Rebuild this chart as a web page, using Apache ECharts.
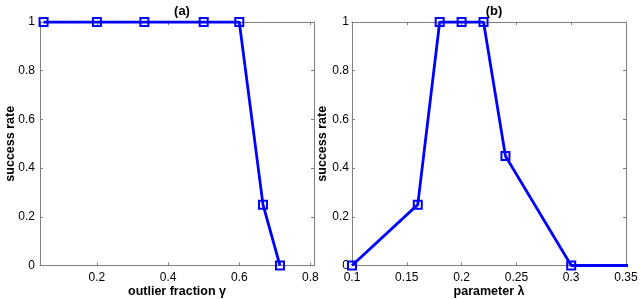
<!DOCTYPE html>
<html>
<head>
<meta charset="utf-8">
<script src="https://cdn.jsdelivr.net/npm/echarts@6/dist/echarts.min.js"></script>
<style>
html,body{margin:0;padding:0;background:#fff;}
#chart{width:640px;height:299px;}
</style>
</head>
<body>
<div id="chart"></div>
<script>
// Panel (a)
const gammaValues = [0.05, 0.2, 1/3, 0.5, 0.6, 2/3, 5/7];
const successA = [1, 1, 1, 1, 1, 0.25, 0];
const ticksXA = [0.2, 0.4, 0.6, 0.8];
// Panel (b)
const lambdaValues = [0.1, 0.16, 0.18, 0.2, 0.22, 0.24, 0.3, 0.4];
const successB = [0, 0.25, 1, 1, 1, 0.45, 0, 0];
const titles = ['(a)', '(b)'];
const xNames = ['outlier fraction γ', 'parameter λ'];
const yName = 'success rate';

const FONT = '"Liberation Sans", Arial, Helvetica, sans-serif';
const BLUE = '#0000ff';
const GRAY = '#7f7f7f';

const grids = [
  {left: 40, top: 22, width: 274, height: 243.5, outerBoundsMode: 'none', containLabel: false},
  {left: 352, top: 22, width: 274, height: 243.5, outerBoundsMode: 'none', containLabel: false}
];

function mkX(gridIndex, opts, isTop) {
  return Object.assign({
    type: 'value', gridIndex: gridIndex, position: isTop ? 'top' : 'bottom',
    splitLine: {show: false},
    axisLine: {show: true, onZero: false, lineStyle: {color: GRAY, width: 1}},
    axisTick: {show: true, inside: true, length: 3, lineStyle: {color: GRAY}},
    axisLabel: {show: !isTop, color: '#000', fontSize: 12, fontFamily: FONT, margin: 6},
    name: isTop ? '' : xNames[gridIndex], nameLocation: 'middle', nameGap: 20,
    nameMoveOverlap: false,
    nameTextStyle: {color: '#000', fontSize: 12.5, fontWeight: 'bold', fontFamily: FONT}
  }, opts);
}
function mkY(gridIndex, isRight) {
  return {
    type: 'value', gridIndex: gridIndex, position: isRight ? 'right' : 'left',
    min: 0, max: 1, interval: 0.2,
    splitLine: {show: false},
    axisLine: {show: true, onZero: false, lineStyle: {color: GRAY, width: 1}},
    axisTick: {show: true, inside: true, length: 3, lineStyle: {color: GRAY}},
    axisLabel: {show: !isRight, color: '#000', fontSize: 12, fontFamily: FONT, margin: gridIndex === 0 ? 5 : 3},
    name: isRight ? '' : yName, nameLocation: 'middle', nameGap: 23,
    nameMoveOverlap: false,
    nameTextStyle: {color: '#000', fontSize: 12.5, fontWeight: 'bold', fontFamily: FONT}
  };
}

const xAopts = (isTop) => ({min: 0.04, max: 0.81,
  axisTick: {show: true, inside: true, length: 3, lineStyle: {color: GRAY}, customValues: ticksXA},
  axisLabel: {show: !isTop, color: '#000', fontSize: 12, fontFamily: FONT, margin: 6, customValues: ticksXA}
});
const xBopts = {min: 0.1, max: 0.35, interval: 0.05};

function mkSeries(idx, xs, ys) {
  return {
    type: 'line', xAxisIndex: idx * 2, yAxisIndex: idx * 2,
    data: xs.map((x, i) => [x, ys[i]]),
    clip: true,
    symbol: 'rect', symbolSize: 8,
    lineStyle: {color: BLUE, width: 2.8},
    itemStyle: {color: 'rgba(255,255,255,0)', borderColor: BLUE, borderWidth: 2},
    emphasis: {disabled: true},
    animation: false
  };
}

const chart = echarts.init(document.getElementById('chart'), null, {renderer: 'canvas'});
chart.setOption({
  backgroundColor: '#fff',
  animation: false,
  title: titles.map((t, i) => ({
    text: t, left: grids[i].left + grids[i].width / 2, top: 0, textAlign: 'center',
    textStyle: {fontSize: 13, fontWeight: 'bold', color: '#000', fontFamily: FONT}
  })),
  grid: grids,
  xAxis: [
    mkX(0, xAopts(false), false), mkX(0, xAopts(true), true),
    mkX(1, xBopts, false), mkX(1, xBopts, true)
  ],
  yAxis: [mkY(0, false), mkY(0, true), mkY(1, false), mkY(1, true)],
  series: [mkSeries(0, gammaValues, successA), mkSeries(1, lambdaValues, successB)]
});
</script>
</body>
</html>
